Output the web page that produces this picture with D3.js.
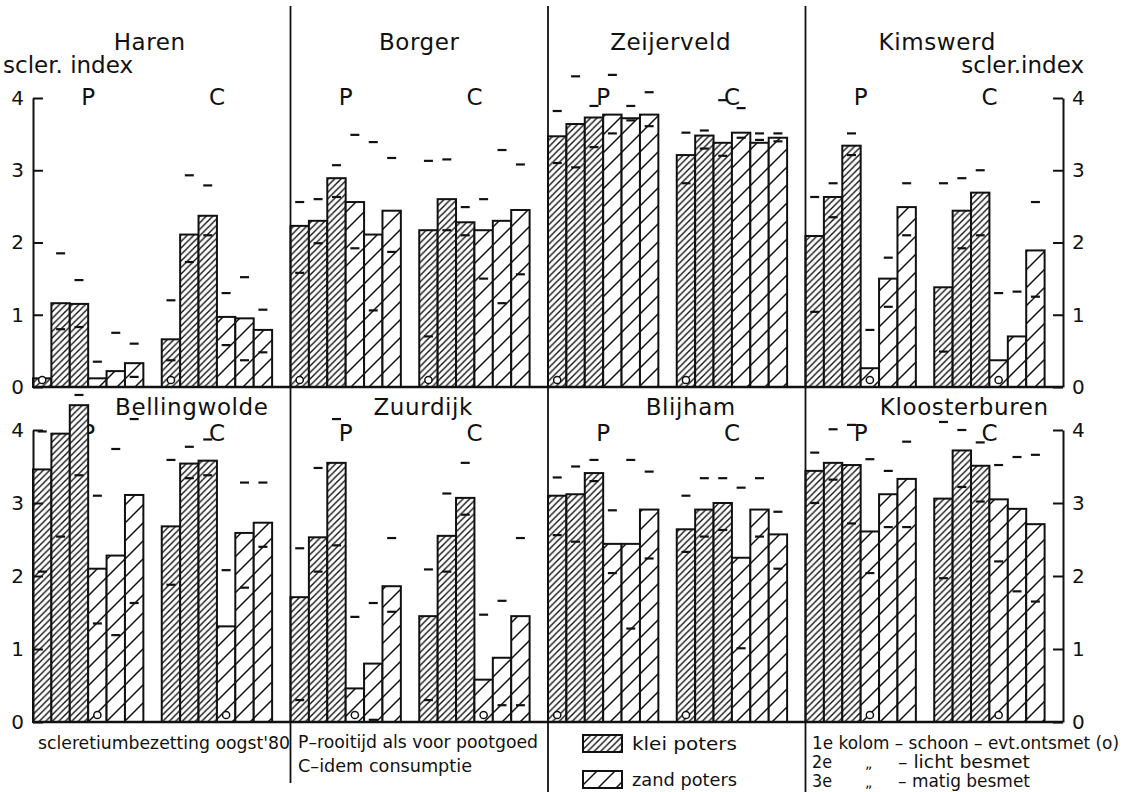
<!DOCTYPE html>
<html>
<head>
<meta charset="utf-8">
<script src="https://cdn.jsdelivr.net/npm/d3@7"></script>
<style>
  body { margin: 0; background: #fff; }
  svg { display: block; }
  text { font-family: "DejaVu Sans", sans-serif; fill: #111; }
</style>
</head>
<body>
<div id="chart"></div>
<script>
// Sclerotium index per location, 12 columns each:
// P: klei schoon, klei licht, klei matig, zand schoon, zand licht, zand matig, then the same for C
const panelNames = ["Haren", "Borger", "Zeijerveld", "Kimswerd",
                    "Bellingwolde", "Zuurdijk", "Blijham", "Kloosterburen"];
const groupNames = ["P", "C"];
const barKinds = ["klei schoon", "klei licht", "klei matig", "zand schoon", "zand licht", "zand matig"];
const yTicks = [0, 1, 2, 3, 4];

const sclerIndex = [
    [0.12, 1.16, 1.15, 0.12, 0.22, 0.33,  0.66, 2.11, 2.37, 0.97, 0.95, 0.79],
    [2.23, 2.30, 2.89, 2.56, 2.11, 2.44,  2.17, 2.60, 2.28, 2.17, 2.30, 2.45],
    [3.47, 3.64, 3.73, 3.77, 3.72, 3.77,  3.21, 3.48, 3.38, 3.52, 3.38, 3.45],
    [2.09, 2.63, 3.34, 0.26, 1.50, 2.49,  1.38, 2.44, 2.69, 0.37, 0.70, 1.89],
    [3.46, 3.95, 4.34, 2.10, 2.28, 3.11,  2.68, 3.54, 3.58, 1.31, 2.59, 2.73],
    [1.71, 2.53, 3.55, 0.46, 0.80, 1.86,  1.45, 2.55, 3.07, 0.58, 0.88, 1.45],
    [3.10, 3.12, 3.41, 2.44, 2.44, 2.91,  2.64, 2.91, 3.00, 2.25, 2.91, 2.57],
    [3.44, 3.55, 3.52, 2.61, 3.12, 3.33,  3.06, 3.72, 3.51, 3.05, 2.92, 2.71]
];

// upper and lower marks (dashes) of each column
const rangeHigh = [
    [null, 1.85, 1.48, 0.35, 0.75, 0.60,  1.20, 2.93, 2.79, 1.30, 1.52, 1.07],
    [2.56, 2.60, 3.07, 3.49, 3.39, 3.17,  3.13, 3.15, 2.49, 2.60, 3.28, 3.08],
    [3.82, 4.30, 3.89, 4.32, 3.89, 4.08,  3.52, 3.55, 3.97, 3.86, 3.51, 3.51],
    [2.63, 2.82, 3.51, 0.79, 1.79, 2.82,  2.82, 2.89, 3.00, 1.30, 1.32, 2.56],
    [3.98, null, 4.48, 3.10, 3.74, 4.15,  3.59, 3.77, 3.87, 2.08, 3.28, 3.28],
    [2.38, 3.48, 4.15, 1.44, 1.63, 2.52,  2.09, 3.13, 3.55, 1.47, 1.66, 2.52],
    [3.35, 3.50, 3.59, 2.90, 3.59, 3.43,  3.10, 3.34, 3.34, 3.21, 3.34, 2.88],
    [3.69, 4.01, 4.07, 3.60, 3.44, 3.84,  4.11, 4.00, 3.83, 3.52, 3.63, 3.66]
];
const rangeLow = [
    [null, 0.80, 0.83, null, null, 0.14,  0.37, 1.73, 2.10, 0.58, 0.37, 0.48],
    [1.58, 1.99, 2.63, 1.92, 1.06, 1.87,  0.70, 2.17, 2.10, 1.50, 1.16, 1.56],
    [3.10, 3.04, 3.32, 3.51, 3.69, 3.61,  2.82, 3.30, 3.20, 3.45, 3.42, 3.40],
    [1.04, 2.35, 3.21, null, 1.11, 2.10,  0.49, 1.92, 2.10, null, null, 1.25],
    [2.06, 2.54, 3.38, 1.35, 1.19, 1.63,  1.88, 3.34, 3.38, null, 1.84, 2.40],
    [0.30, 2.06, 2.42, null, 0.03, 1.51,  0.30, 2.06, 2.84, null, 0.23, 0.23],
    [2.56, 2.47, 3.30, 2.04, 1.28, 2.24,  2.33, 2.54, 2.63, 1.01, 2.54, 2.10],
    [3.00, 3.32, 2.72, 2.04, 2.67, 2.67,  1.97, 3.22, 3.02, 2.20, 1.79, 1.65]
];

// which "schoon" column was disinfected (o): 0 = klei, 3 = zand
const ontsmetKolom = [0, 0, 0, 3, 3, 3, 0, 3];

// ---- layout ----
const width = 1134, height = 792;
const plotLeft = 33, plotRight = 1063;
const rows = [
    {base: 387, top: 98, titleY: 50, pcY: 105},
    {base: 722, top: 430, titleY: 415, pcY: 441}
];
const titleShift = [-12, 0, -6, 3, 30, 4, 14, 30];

const svg = d3.select("#chart")
    .append("svg")
    .attr("width", width)
    .attr("height", height);

// hatch patterns
const defs = svg.append("defs");
function hatch(id, s, sw) {
    const p = defs.append("pattern")
        .attr("id", id)
        .attr("patternUnits", "userSpaceOnUse")
        .attr("width", s)
        .attr("height", s);
    p.append("rect").attr("width", s).attr("height", s).attr("fill", "#fff");
    p.append("path")
        .attr("d", `M0,${s} L${s},0 M${-s / 4},${s / 4} L${s / 4},${-s / 4} M${3 * s / 4},${5 * s / 4} L${5 * s / 4},${3 * s / 4}`)
        .attr("stroke", "#111")
        .attr("stroke-width", sw);
}
hatch("klei", 6.5, 1.4);
hatch("zand", 18, 1.5);

const panelX = d3.scaleBand().domain(d3.range(4)).range([plotLeft, plotRight]);
const slotKeys = [];
groupNames.forEach(g => {
    barKinds.forEach((k, i) => slotKeys.push(g + i));
    slotKeys.push(g + "gap");
});
const slotX = d3.scaleBand().domain(slotKeys).range([0, panelX.bandwidth()]);
const yScales = rows.map(r => d3.scaleLinear().domain([0, 4]).range([r.base, r.top]));

// bars
panelNames.forEach((name, p) => {
    const row = Math.floor(p / 4), col = p % 4;
    const y = yScales[row];
    const x0 = panelX(col);
    const g = svg.append("g").attr("class", "panel");

    const bars = [];
    groupNames.forEach((gn, gi) => {
        barKinds.forEach((k, i) => {
            const idx = gi * 6 + i;
            bars.push({
                x: x0 + slotX(gn + i),
                v: sclerIndex[p][idx],
                hi: rangeHigh[p][idx],
                lo: rangeLow[p][idx],
                soil: i < 3 ? "klei" : "zand",
                o: i === ontsmetKolom[p]
            });
        });
        // P / C label over group centre
        g.append("text")
            .attr("x", x0 + slotX(gn + 0) + slotX.bandwidth() * 3)
            .attr("y", rows[row].pcY)
            .attr("text-anchor", "middle")
            .style("font-size", "23px")
            .text(gn);
    });

    const bw = slotX.bandwidth();
    g.selectAll("rect.bar")
        .data(bars)
        .enter().append("rect")
        .attr("class", "bar")
        .attr("x", d => d.x)
        .attr("y", d => y(d.v))
        .attr("width", bw)
        .attr("height", d => y(0) - y(d.v))
        .attr("fill", d => `url(#${d.soil})`)
        .attr("stroke", "#111")
        .attr("stroke-width", 2);

    // range dashes
    const dash = bars.flatMap(d => [d.hi, d.lo].filter(v => v != null).map(v => ({x: d.x + bw / 2, v})));
    g.selectAll("line.dash")
        .data(dash)
        .enter().append("line")
        .attr("x1", d => d.x - 4.5)
        .attr("x2", d => d.x + 4.5)
        .attr("y1", d => y(d.v))
        .attr("y2", d => y(d.v))
        .attr("stroke", "#111")
        .attr("stroke-width", 2.2);

    // "o" for disinfected seed
    bars.filter(d => d.o).forEach(d => {
        g.append("circle")
            .attr("cx", d.x + bw / 2)
            .attr("cy", y(0) - 7)
            .attr("r", 3.6)
            .attr("fill", "#fff")
            .attr("stroke", "#111")
            .attr("stroke-width", 1.5);
    });

    // location title
    g.append("text")
        .attr("x", x0 + panelX.bandwidth() / 2 + titleShift[p])
        .attr("y", rows[row].titleY)
        .attr("text-anchor", "middle")
        .style("font-size", "23px")
        .style("letter-spacing", "0.6px")
        .text(name);
});

// axes
rows.forEach((r, ri) => {
    const y = yScales[ri];
    svg.append("line")
        .attr("x1", plotLeft).attr("x2", plotRight)
        .attr("y1", y(0)).attr("y2", y(0))
        .attr("stroke", "#111").attr("stroke-width", 2.5);

    const left = svg.append("g")
        .attr("transform", `translate(${plotLeft},0)`)
        .call(d3.axisLeft(y).tickValues(yTicks).tickFormat(d3.format("d"))
            .tickSizeInner(-10).tickSizeOuter(0).tickPadding(9));
    const right = svg.append("g")
        .attr("transform", `translate(${plotRight},0)`)
        .call(d3.axisRight(y).tickValues(yTicks).tickFormat(d3.format("d"))
            .tickSizeInner(-10).tickSizeOuter(0).tickPadding(9));
    [left, right].forEach(a => {
        a.selectAll("path, line").attr("stroke", "#111").attr("stroke-width", 2);
        a.selectAll("text")
            .style("font-family", "DejaVu Sans, sans-serif")
            .style("font-size", "20px")
            .attr("fill", "#111");
    });
});

// panel dividers
[1, 2, 3].forEach(c => {
    svg.append("line")
        .attr("x1", panelX(c)).attr("x2", panelX(c))
        .attr("y1", 6).attr("y2", c === 1 ? 783 : 792)
        .attr("stroke", "#111").attr("stroke-width", 1.8);
});

// axis titles
svg.append("text").attr("x", 3).attr("y", 73)
    .style("font-size", "23px").text("scler. index");
svg.append("text").attr("x", 1084).attr("y", 73).attr("text-anchor", "end")
    .style("font-size", "23px").text("scler.index");

// footnotes
function note(x, y, txt, len) {
    svg.append("text").attr("x", x).attr("y", y)
        .attr("textLength", len).attr("lengthAdjust", "spacingAndGlyphs")
        .style("font-size", "17px").text(txt);
}
note(38, 749, "scleretiumbezetting oogst'80", 252);
note(298, 748, "P\u2013rooitijd als voor pootgoed", 240);
note(298, 772, "C\u2013idem consumptie", 174);
note(812, 749, "1e kolom \u2013 schoon \u2013 evt.ontsmet (o)", 307);
note(812, 768, "2e", 20);
note(812, 787, "3e", 20);
svg.append("text").attr("x", 865).attr("y", 768).style("font-size", "14px").text("\u201e");
svg.append("text").attr("x", 865).attr("y", 787).style("font-size", "14px").text("\u201e");
note(898, 768, "\u2013 licht besmet", 132);
note(898, 787, "\u2013 matig besmet", 132);

// legend
const legend = [{soil: "klei", label: "klei poters", y: 735}, {soil: "zand", label: "zand poters", y: 771}];
legend.forEach(l => {
    svg.append("rect")
        .attr("x", 583).attr("y", l.y)
        .attr("width", 39).attr("height", 17)
        .attr("fill", `url(#${l.soil})`)
        .attr("stroke", "#111").attr("stroke-width", 2);
    note(632, l.y + 15, l.label, 105);
});
</script>
</body>
</html>
